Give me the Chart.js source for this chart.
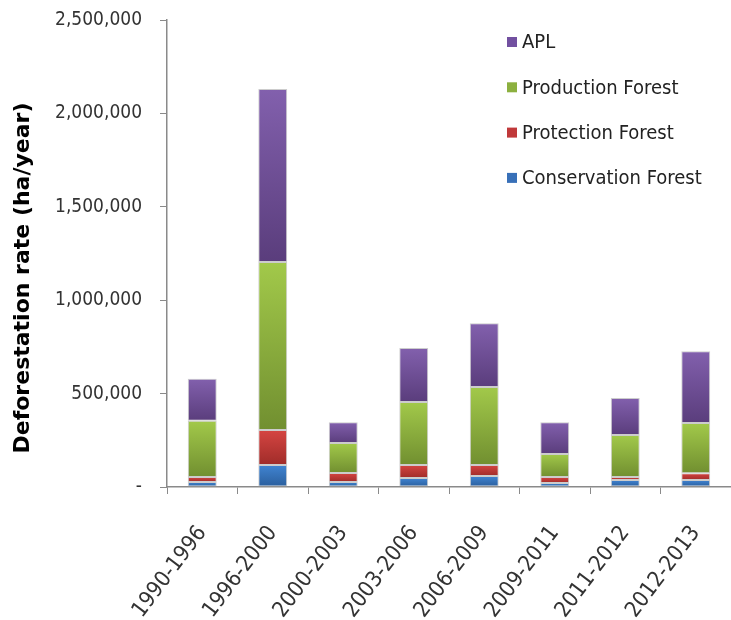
<!DOCTYPE html>
<html>
<head>
<meta charset="utf-8">
<script src="https://cdn.jsdelivr.net/npm/chart.js@4/dist/chart.umd.min.js"></script>
<style>
  html, body { margin:0; padding:0; background:#fff; }
  #wrap { position:relative; width:731px; height:620px; }
</style>
</head>
<body>
<div id="wrap"><canvas id="c" width="731" height="620"></canvas></div>
<script>
// periods and deforestation rate per forest function (ha/year)
const periods = ['1990-1996', '1996-2000', '2000-2003', '2003-2006', '2006-2009', '2009-2011', '2011-2012', '2012-2013'];
const conservation = [27000, 118000, 27000, 48000, 59000, 21000, 37000, 37000];
const protection   = [27000, 187000, 48000, 70000, 59000, 32000, 16000, 37000];
const production   = [300000, 899000, 160000, 337000, 417000, 123000, 225000, 268000];
const apl          = [225000, 926000, 112000, 289000, 342000, 171000, 198000, 385000];

const yTicks = [0, 500000, 1000000, 1500000, 2000000, 2500000];
const yTitle = 'Deforestation rate (ha/year)';

// light (top) -> dark (bottom) per segment
const shades = {
  conservation: ['#4084d2', '#2a5e9c', '#3870b8'],
  protection:   ['#d54542', '#a02c29', '#c0393a'],
  production:   ['#a2c94a', '#718f30', '#8cb03f'],
  apl:          ['#8260ad', '#5a3d7c', '#7250a0']
};

const series = [conservation, protection, production, apl];

function segFill(key, idx) {
  return ctx => {
    const chart = ctx.chart;
    const y = chart.scales && chart.scales.y;
    if (!y || ctx.dataIndex == null || !chart.chartArea) return shades[key][2];
    let below = 0;
    for (let k = 0; k < idx; k++) below += series[k][ctx.dataIndex];
    const top = y.getPixelForValue(below + series[idx][ctx.dataIndex]);
    const bot = y.getPixelForValue(below);
    if (!isFinite(top) || !isFinite(bot) || top === bot) return shades[key][2];
    const g = chart.ctx.createLinearGradient(0, top, 0, bot);
    g.addColorStop(0, shades[key][0]);
    g.addColorStop(1, shades[key][1]);
    return g;
  };
}

const FONT = "'Liberation Sans Narrow', 'DejaVu Sans Condensed', 'Liberation Sans', sans-serif";

// legend inside the plot (top right, reversed) + y title sitting a bit low like the original
const extras = {
  id: 'extras',
  afterDraw(chart) {
    const c = chart.ctx;
    const ds = chart.data.datasets.slice().reverse();
    c.save();
    c.font = '20px ' + FONT;
    c.textBaseline = 'middle';
    ds.forEach((d, i) => {
      const yy = 42 + i * 45.3;
      c.fillStyle = d.legendColor;
      c.fillRect(507, yy - 5, 10, 10);
      c.fillStyle = '#222';
      c.fillText(d.label, 522, yy + 1);
    });
    c.restore();

    c.save();
    c.translate(23, 278);
    c.rotate(-Math.PI / 2);
    c.font = "bold 22px 'DejaVu Sans', sans-serif";
    c.textAlign = 'center';
    c.textBaseline = 'middle';
    c.fillStyle = '#000';
    c.fillText(yTitle, 0, 0);
    c.restore();
  }
};

const common = { stack: 's', barPercentage: 0.41, categoryPercentage: 1, borderWidth: 1, borderColor: 'rgba(170,170,170,0.6)', borderSkipped: false };

new Chart(document.getElementById('c'), {
  type: 'bar',
  data: {
    labels: periods,
    datasets: [
      { label: 'Conservation Forest', data: conservation, backgroundColor: segFill('conservation', 0), legendColor: shades.conservation[2], ...common },
      { label: 'Protection Forest', data: protection, backgroundColor: segFill('protection', 1), legendColor: shades.protection[2], ...common },
      { label: 'Production Forest', data: production, backgroundColor: segFill('production', 2), legendColor: shades.production[2], ...common },
      { label: 'APL', data: apl, backgroundColor: segFill('apl', 3), legendColor: shades.apl[2], ...common }
    ]
  },
  options: {
    responsive: false,
    animation: false,
    layout: { padding: { top: 20, right: -3, left: 0, bottom: 0 } },
    plugins: { legend: { display: false }, tooltip: { enabled: false } },
    scales: {
      x: {
        stacked: true,
        grid: { display: true, drawOnChartArea: false, offset: true, tickLength: 7, color: '#8a8a8a' },
        border: { color: '#8a8a8a', width: 1.5 },
        ticks: { autoSkip: false, minRotation: 53, maxRotation: 53, padding: 27, color: '#333', font: { family: FONT, size: 22 } },
        afterFit: s => { s.height = 133; s.paddingRight = 0; }
      },
      y: {
        stacked: true,
        min: 0, max: 2500000,
        afterBuildTicks: s => { s.ticks = yTicks.map(v => ({ value: v })); },
        grid: { display: true, drawOnChartArea: false, tickLength: 7, color: '#8a8a8a' },
        border: { color: '#8a8a8a', width: 1.5 },
        ticks: {
          padding: 18, color: '#333', font: { family: FONT, size: 19 },
          callback: v => v === 0 ? '-' : v.toLocaleString('en-US')
        },
        afterFit: s => { s.width = 167; s.paddingTop = 10; s.paddingBottom = 10; }
      }
    }
  },
  plugins: [extras]
});
</script>
</body>
</html>
